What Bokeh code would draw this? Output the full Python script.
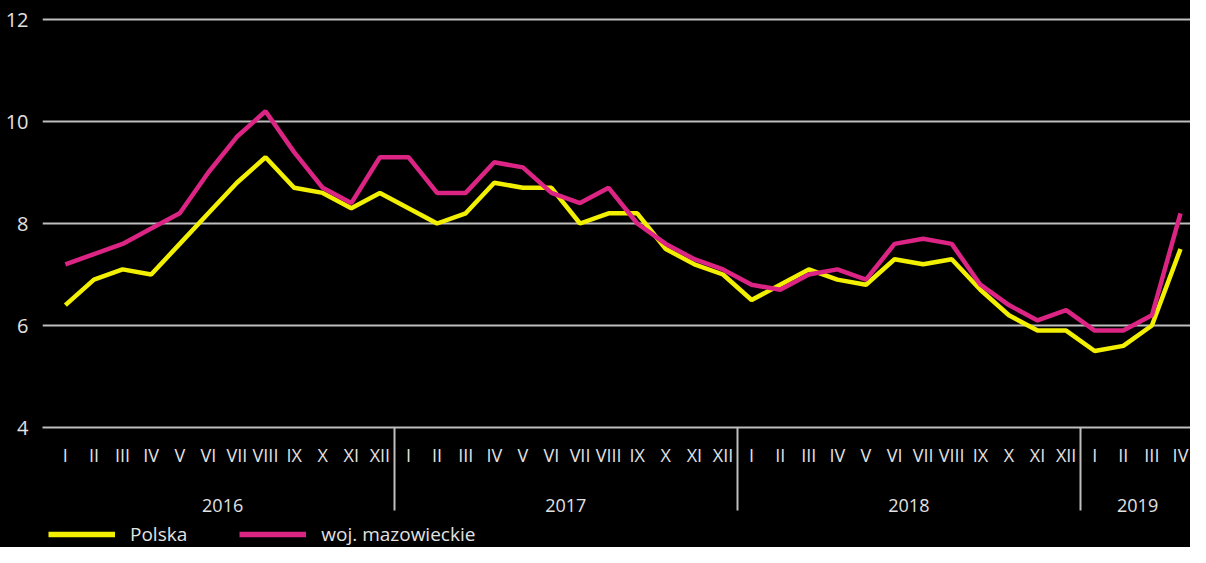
from bokeh.plotting import figure
from bokeh.layouts import column
from bokeh.models import Range1d, FixedTicker, LinearAxis, Legend, LegendItem
from bokeh.embed import file_html
from bokeh.resources import INLINE

months = ["I", "II", "III", "IV", "V", "VI", "VII", "VIII", "IX", "X", "XI", "XII"]
years = ["2016", "2017", "2018", "2019"]
month_labels = months * 3 + months[:4]
year_separators = [11.5, 23.5, 35.5]
year_centers = [5.5, 17.5, 29.5, 37.5]
y_ticks = [4, 6, 8, 10, 12]

polska = [6.4, 6.9, 7.1, 7.0, 7.6, 8.2, 8.8, 9.3, 8.7, 8.6, 8.3, 8.6,
          8.3, 8.0, 8.2, 8.8, 8.7, 8.7, 8.0, 8.2, 8.2, 7.5, 7.2, 7.0,
          6.5, 6.8, 7.1, 6.9, 6.8, 7.3, 7.2, 7.3, 6.7, 6.2, 5.9, 5.9,
          5.5, 5.6, 6.0, 7.5]
mazowieckie = [7.2, 7.4, 7.6, 7.9, 8.2, 9.0, 9.7, 10.2, 9.4, 8.7, 8.4, 9.3,
               9.3, 8.6, 8.6, 9.2, 9.1, 8.6, 8.4, 8.7, 8.0, 7.6, 7.3, 7.1,
               6.8, 6.7, 7.0, 7.1, 6.9, 7.6, 7.7, 7.6, 6.8, 6.4, 6.1, 6.3,
               5.9, 5.9, 6.2, 8.2]
series_names = ["Polska", "woj. mazowieckie"]

YELLOW = "#F2F000"
MAGENTA = "#DB2483"
GRID = "#BEBEBE"
TEXT = "#E2E2E2"
FONT = "Open Sans"
BLACK_BG = {"background-color": "black"}

x = list(range(len(polska)))

p = figure(width=1190, height=520, output_backend="svg", toolbar_location=None,
           x_range=Range1d(-0.80, 39.35), y_range=Range1d(4, 12.353),
           min_border_left=42, min_border_right=0, min_border_top=1,
           min_border_bottom=93, styles=BLACK_BG)
p.background_fill_color = "black"
p.border_fill_color = "black"
p.outline_line_color = None

r1 = p.line(x, polska, line_color=YELLOW, line_width=4.5)
r2 = p.line(x, mazowieckie, line_color=MAGENTA, line_width=4.5)

# grid
p.xgrid.visible = False
p.ygrid.ticker = FixedTicker(ticks=y_ticks)
p.ygrid.grid_line_color = GRID
p.ygrid.grid_line_width = 2

# y axis
ya = p.yaxis[0]
ya.ticker = FixedTicker(ticks=y_ticks)
ya.axis_line_color = None
ya.major_tick_line_color = None
ya.minor_tick_line_color = None
ya.major_tick_out = 0
ya.major_tick_in = 0
ya.minor_tick_out = 0
ya.minor_tick_in = 0
ya.major_label_standoff = 14
ya.major_label_text_font = FONT
ya.major_label_text_font_size = "20px"
ya.major_label_text_color = TEXT

# month axis (its minor ticks are the year separators)
xa = p.xaxis[0]
xa.ticker = FixedTicker(ticks=x, minor_ticks=year_separators)
xa.major_label_overrides = {i: lab for i, lab in enumerate(month_labels)}
xa.axis_line_color = GRID
xa.axis_line_width = 2
xa.major_tick_line_color = None
xa.major_tick_out = 0
xa.major_tick_in = 0
xa.minor_tick_line_color = GRID
xa.minor_tick_line_width = 2
xa.minor_tick_out = 83
xa.minor_tick_in = 0
xa.major_label_standoff = -68
xa.major_label_text_font = FONT
xa.major_label_text_font_size = "18px"
xa.major_label_text_color = TEXT

# year axis
yr = LinearAxis(ticker=FixedTicker(ticks=year_centers),
                major_label_overrides={c: y for c, y in zip(year_centers, years)})
yr.axis_line_color = None
yr.major_tick_line_color = None
yr.minor_tick_line_color = None
yr.major_tick_out = 0
yr.major_tick_in = 0
yr.minor_tick_out = 0
yr.minor_tick_in = 0
yr.major_label_standoff = 29
yr.major_label_text_font = FONT
yr.major_label_text_font_size = "18px"
yr.major_label_text_color = TEXT
p.add_layout(yr, "below")

# legend strip
q = figure(width=1190, height=27, output_backend="svg", toolbar_location=None,
           x_range=Range1d(0, 1), y_range=Range1d(0, 1),
           x_axis_location=None, y_axis_location=None,
           min_border_left=42, min_border_right=0, min_border_top=0,
           min_border_bottom=0, styles=BLACK_BG)
q.background_fill_color = "black"
q.border_fill_color = "black"
q.outline_line_color = None
q.grid.visible = False
# legend swatch renderers kept outside the visible range
l1 = q.line([-5, -4], [-5, -5], line_color=YELLOW, line_width=5.5)
l2 = q.line([-5, -4], [-5, -5], line_color=MAGENTA, line_width=5.5)
legend = Legend(items=[LegendItem(label=series_names[0], renderers=[l1]),
                       LegendItem(label=series_names[1], renderers=[l2])],
                location="center_left", orientation="horizontal",
                glyph_width=67, glyph_height=20, label_height=20,
                label_standoff=15, spacing=52, padding=0, margin=6,
                background_fill_alpha=0, border_line_color=None,
                label_text_font=FONT, label_text_font_size="19px",
                label_text_color=TEXT)
q.add_layout(legend, "center")

layout = column(p, q, spacing=0, styles=BLACK_BG)
open("out.html", "w").write(file_html(layout, INLINE))
